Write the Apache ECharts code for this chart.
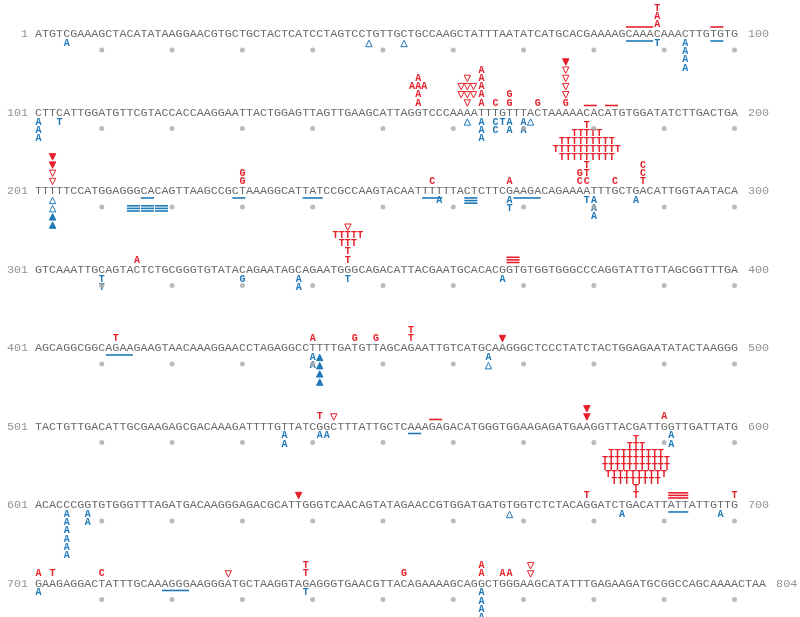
<!DOCTYPE html>
<html><head><meta charset="utf-8">
<script src="https://cdn.jsdelivr.net/npm/echarts@6/dist/echarts.min.js"></script>
<style>html,body{margin:0;padding:0;background:#fff}#c{width:800px;height:617px}</style>
</head><body><div id="c"></div>
<script>
// ---------- data ----------
const seqRows = [
 "ATGTCGAAAGCTACATATAAGGAACGTGCTGCTACTCATCCTAGTCCTGTTGCTGCCAAGCTATTTAATATCATGCACGAAAAGCAAACAAACTTGTGTG",
 "CTTCATTGGATGTTCGTACCACCAAGGAATTACTGGAGTTAGTTGAAGCATTAGGTCCCAAAATTTGTTTACTAAAAACACATGTGGATATCTTGACTGA",
 "TTTTTCCATGGAGGGCACAGTTAAGCCGCTAAAGGCATTATCCGCCAAGTACAATTTTTTACTCTTCGAAGACAGAAAATTTGCTGACATTGGTAATACA",
 "GTCAAATTGCAGTACTCTGCGGGTGTATACAGAATAGCAGAATGGGCAGACATTACGAATGCACACGGTGTGGTGGGCCCAGGTATTGTTAGCGGTTTGA",
 "AGCAGGCGGCAGAAGAAGTAACAAAGGAACCTAGAGGCCTTTTGATGTTAGCAGAATTGTCATGCAAGGGCTCCCTATCTACTGGAGAATATACTAAGGG",
 "TACTGTTGACATTGCGAAGAGCGACAAAGATTTTGTTATCGGCTTTATTGCTCAAAGAGACATGGGTGGAAGAGATGAAGGTTACGATTGGTTGATTATG",
 "ACACCCGGTGTGGGTTTAGATGACAAGGGAGACGCATTGGGTCAACAGTATAGAACCGTGGATGATGTGGTCTCTACAGGATCTGACATTATTATTGTTG",
 "GAAGAGGACTATTTGCAAAGGGAAGGGATGCTAAGGTAGAGGGTGAACGTTACAGAAAAGCAGGCTGGGAAGCATATTTGAGAAGATGCGGCCAGCAAAACTAA"
];
const rowStarts = [1,101,201,301,401,501,601,701];
const tickStep = 10;

// red marks above the sequence: [position, rows bottom -> top]
const redStacks = [
 [89,['A','A','T']],
 [155,['A','A','AAA','A']],
 [162,['▽','▽▽▽','▽▽▽','▽']],
 [164,['A','A','A','A','A']],
 [166,['C']],
 [168,['G','G']],
 [172,['G']],
 [176,['G','▽','▽','▽','▽','▼']],
 [203,['▽','▽','▼','▼']],
 [230,['G','G']],
 [257,['C']],
 [268,['A']],
 [278,['C','G']],
 [279,['C','T','T','TTTTTTTTT','TTTTTTTTTTT','TTTTTTTTT','TTTTT','T']],
 [283,['C']],
 [287,['T','C','C']],
 [315,['A']],
 [345,['T','T','TTT','TTTTT','▽']],
 [412,['T']],
 [440,['A']],
 [446,['G']],
 [449,['G']],
 [454,['T','T']],
 [467,['▼']],
 [541,['T']],
 [543,['▽']],
 [579,['▼','▼']],
 [590,['A']],
 [638,['▼']],
 [679,['T']],
 [686,['T','T','TTTTTTTT','TTTTTTTTTT','TTTTTTTTTTT','TTTTTTTTTTT','TTTTTTTTT','TTT','T']],
 [700,['T']],
 [701,['A']],
 [703,['T']],
 [710,['C']],
 [728,['▽']],
 [739,['T','T']],
 [753,['G']],
 [764,['A','A']],
 [767,['A']],
 [768,['A']],
 [771,['▽','▽']]
];
// blue marks below the sequence: [position, rows top -> bottom]
const blueStacks = [
 [5,['A']],[48,['△']],[53,['△']],[89,['T']],[93,['A','A','A','A']],
 [101,['A','A','A']],[104,['T']],[162,['△']],[164,['A','A','A']],[166,['C','C']],
 [167,['T']],[168,['A','A']],[170,['A','A']],[171,['△']],
 [203,['△','△','▲','▲']],[258,['A']],[268,['A','T']],[279,['T']],[280,['A','A','A']],[286,['A']],
 [310,['T','T']],[330,['G']],[338,['A','A']],[345,['T']],[367,['A']],
 [440,['A','A']],[441,['▲','▲','▲','▲']],[465,['A','△']],
 [536,['A','A']],[541,['A']],[542,['A']],[591,['A','A']],
 [605,['A','A','A','A','A','A']],[608,['A','A']],[668,['△']],[684,['A']],[698,['A']],
 [701,['A']],[739,['T']],[764,['A','A','A','A']]
];
// bars: [first base, last base, first level, line count]
const redBars = [
 [85,88,0,1],[97,98,0,1],[179,180,0,1],[182,183,0,1],[368,369,0,3],[557,558,0,1],[691,693,0,3]
];
const blueBars = [
 [85,88,0,1],[97,98,0,1],[216,217,0,1],[214,215,3,3],[216,217,3,3],[218,219,3,3],
 [229,230,0,1],[239,241,0,1],[256,258,0,1],[262,263,0,3],[269,272,0,1],
 [411,414,0,1],[554,555,0,1],[691,693,0,1],[719,722,0,1]
];

// ---------- helpers ----------
const RED = '#e6202b', BLUE = '#1f78b8', SEQ = '#6a6a6a';
function locate(pos){ const r = Math.min(7, Math.floor((pos-1)/100)); return [pos - rowStarts[r] + 1, r]; }

const seqData = [], seqChars = [];
seqRows.forEach((s, r) => { for (let k = 0; k < s.length; k++) { seqData.push([k+1, r]); seqChars.push(s[k]); } });

const dotData = [];
seqRows.forEach((s, r) => { for (let k = tickStep; k <= s.length; k += tickStep) dotData.push([k, r]); });

const stackData = [], stackInfo = [];
redStacks.forEach(([p, rows]) => { stackData.push(locate(p)); stackInfo.push({rows, side:-1, color:RED}); });
blueStacks.forEach(([p, rows]) => { stackData.push(locate(p)); stackInfo.push({rows, side:1, color:BLUE}); });

const barData = [], barInfo = [];
redBars.forEach(([a,b,l,n]) => { const [i,r] = locate(a); barData.push([i,r]); barInfo.push({len:b-a, level:l, n, side:-1, color:RED}); });
blueBars.forEach(([a,b,l,n]) => { const [i,r] = locate(a); barData.push([i,r]); barInfo.push({len:b-a, level:l, n, side:1, color:BLUE}); });

const D0 = 9.5, PITCH = 6.2;
function spacing(n){ return n > 1 ? Math.min(8.2, 56/(n-1)) : 8.2; }
function glyph(ch, x, y, color){
  const w = 3.2, h = 3.2;
  if (ch === '▼' || ch === '▽') {
    return {type:'polygon', shape:{points:[[x-w,y-h],[x+w,y-h],[x,y+h]]},
      style:{fill: ch==='▼'?color:'#fff', stroke:color, lineWidth:1}};
  }
  if (ch === '▲' || ch === '△') {
    return {type:'polygon', shape:{points:[[x-w,y+h],[x+w,y+h],[x,y-h]]},
      style:{fill: ch==='▲'?color:'#fff', stroke:color, lineWidth:1}};
  }
  return {type:'text', x, y, style:{text:ch, fill:color, font:'bold 10px "Liberation Mono"',
    textAlign:'center', textVerticalAlign:'middle', align:'center', verticalAlign:'middle'}};
}

const chart = echarts.init(document.getElementById('c'), null, {renderer:'canvas'});
chart.setOption({
  animation:false,
  backgroundColor:'#fff',
  grid:{left:0,right:0,top:0,bottom:0},
  xAxis:{type:'value', min:-4.48, max:109.32, show:false},
  yAxis:{type:'value', min:-0.433, max:7.427, inverse:true, show:false},
  series:[
    { type:'custom', data:seqData, silent:true,
      renderItem:(params, api) => {
        const c = api.coord([api.value(0), api.value(1)]);
        return {type:'text', x:c[0], y:c[1], style:{text:seqChars[params.dataIndex], fill:SEQ,
          font:'11.7px "Liberation Mono"', textAlign:'center', textVerticalAlign:'middle', align:'center', verticalAlign:'middle'}};
      }},
    { type:'scatter', data:dotData, symbol:'circle', symbolSize:5, symbolOffset:[0,16],
      itemStyle:{color:'#aaaaaa'}, silent:true },
    { type:'scatter', data:seqRows.map((s,r)=>[0.5,r,rowStarts[r]]), symbolSize:0, silent:true,
      label:{show:true, position:'left', distance:7, formatter:p=>String(p.value[2]),
        color:'#777', fontFamily:'Liberation Mono', fontSize:11.7}},
    { type:'scatter', data:seqRows.map((s,r)=>[s.length+0.5,r,rowStarts[r]+s.length-1]), symbolSize:0, silent:true,
      label:{show:true, position:'right', distance:10, formatter:p=>String(p.value[2]),
        color:'#777', fontFamily:'Liberation Mono', fontSize:11.7}},
    { type:'custom', data:barData, silent:true,
      renderItem:(params, api) => {
        const info = barInfo[params.dataIndex];
        const i = api.value(0), r = api.value(1);
        const a = api.coord([i-0.5, r]), b = api.coord([i+info.len+0.5, r]);
        const children = [];
        for (let k = 0; k < info.n; k++) {
          const d = 7 + (info.level + k) * 2.6;
          const y = a[1] + info.side * d;
          children.push({type:'rect', shape:{x:a[0]+0.5, y:y-0.8, width:b[0]-a[0]-1, height:1.6}, style:{fill:info.color}});
        }
        return {type:'group', children};
      }},
    { type:'custom', data:stackData, silent:true,
      renderItem:(params, api) => {
        const info = stackInfo[params.dataIndex];
        const c = api.coord([api.value(0), api.value(1)]);
        const sp = spacing(info.rows.length);
        const children = [];
        info.rows.forEach((row, j) => {
          const chars = Array.from(row);
          const y = c[1] + info.side * (D0 + j*sp);
          chars.forEach((ch, k) => {
            const x = c[0] + (k - (chars.length-1)/2) * PITCH;
            children.push(glyph(ch, x, y, info.color));
          });
        });
        return {type:'group', children};
      }}
  ]
});
</script></body></html>
